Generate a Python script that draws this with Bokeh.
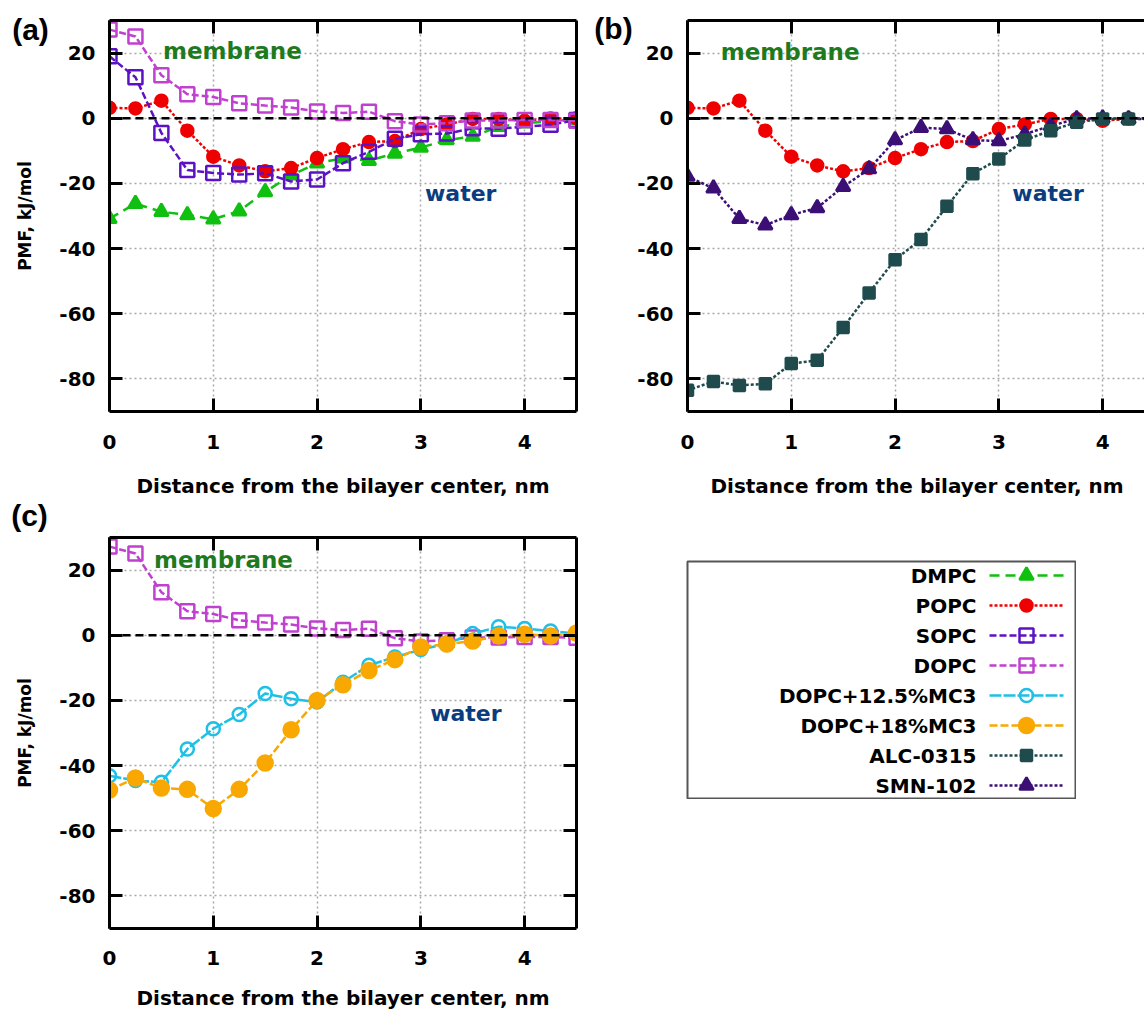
import math
from bokeh.plotting import figure
from bokeh.layouts import row, column
from bokeh.models import Span, Label, FixedTicker, LinearAxis, Range1d
from bokeh.embed import file_html
from bokeh.resources import INLINE
from bokeh.core.properties import value

# ---------------- data ----------------
distance = [0.0, 0.25, 0.5, 0.75, 1.0, 1.25, 1.5, 1.75, 2.0, 2.25,
            2.5, 2.75, 3.0, 3.25, 3.5, 3.75, 4.0, 4.25, 4.5]

dmpc = [-30.8, -26.2, -28.7, -29.7, -31.0, -28.5, -22.6, -17.5, -13.8, -12.3,
        -13.0, -10.8, -9.0, -6.7, -5.6, -2.6, -1.5, -1.0, -0.5]
popc = [3.2, 3.0, 5.4, -3.8, -11.8, -14.5, -16.3, -15.3, -12.2, -9.5,
        -7.3, -7.0, -3.3, -1.9, -0.2, -0.2, -0.8, -0.1, 0.0]
sopc = [19.0, 12.6, -4.5, -15.9, -16.8, -17.3, -16.9, -19.4, -18.8, -13.8,
        -10.3, -6.3, -4.9, -4.7, -3.1, -3.2, -2.6, -2.0, -0.5]
dopc = [27.2, 25.1, 13.2, 7.4, 6.5, 4.6, 3.9, 3.3, 2.1, 1.6,
        2.0, -0.9, -1.9, -1.5, -0.7, -0.7, -0.5, -0.5, -0.8]
dopc_mc3_125 = [-43.1, -44.6, -45.1, -34.9, -28.7, -24.3, -17.9, -19.5, -20.5, -14.4,
                -9.2, -6.7, -4.4, -2.6, 0.5, 2.6, 2.1, 1.3, 0.5]
dopc_mc3_18 = [-47.5, -43.8, -46.9, -47.3, -53.2, -47.3, -39.2, -29.0, -20.0, -15.2,
               -10.8, -7.5, -3.6, -2.7, -1.8, -0.2, 0.3, -0.2, 0.7]
alc0315 = [-83.5, -80.8, -82.0, -81.5, -75.3, -74.3, -64.2, -53.6, -43.4, -37.2,
           -27.0, -17.0, -12.5, -6.7, -3.8, -1.2, -0.2, -0.2, 0.0]
smn102 = [-17.9, -21.5, -30.8, -32.8, -29.7, -27.5, -21.0, -15.6, -6.7, -2.9,
          -3.3, -6.7, -7.0, -4.9, -2.3, -0.2, 0.0, -0.2, -0.2]

series_names = ["DMPC", "POPC", "SOPC", "DOPC", "DOPC+12.5%MC3",
                "DOPC+18%MC3", "ALC-0315", "SMN-102"]
series_values = {
    "DMPC": dmpc, "POPC": popc, "SOPC": sopc, "DOPC": dopc,
    "DOPC+12.5%MC3": dopc_mc3_125, "DOPC+18%MC3": dopc_mc3_18,
    "ALC-0315": alc0315, "SMN-102": smn102,
}
panel_a_series = ["DMPC", "POPC", "SOPC", "DOPC"]
panel_b_series = ["POPC", "SMN-102", "ALC-0315"]
panel_c_series = ["DOPC", "DOPC+12.5%MC3", "DOPC+18%MC3"]

x_ticks = [0, 1, 2, 3, 4]
x_tick_labels = ["0", "1", "2", "3", "4"]
y_ticks = [-80, -60, -40, -20, 0, 20]
y_tick_labels = ["-80", "-60", "-40", "-20", "0", "20"]

x_title = "Distance from the bilayer center, nm"
y_title = "PMF, kJ/mol"
panel_tags = ["(a)", "(b)", "(c)"]

# ---------------- styles ----------------
STYLE = {
    "DMPC": dict(color="#10c010", dash="10 6", marker="triangle", size=14, fill=True),
    "POPC": dict(color="#ee0000", dash="3 2", marker="circle", size=12, fill=True),
    "SOPC": dict(color="#5b12c4", dash="7 3", marker="square", size=14, fill=False),
    "DOPC": dict(color="#c040d0", dash="7 3", marker="square", size=14, fill=False),
    "DOPC+12.5%MC3": dict(color="#1ec0e6", dash="12 2", marker="circle", size=13, fill=False),
    "DOPC+18%MC3": dict(color="#f8a800", dash="8 3", marker="circle", size=15, fill=True),
    "ALC-0315": dict(color="#1f4b4d", dash="3 2", marker="square", size=11, fill=True),
    "SMN-102": dict(color="#3b0f75", dash="3 2", marker="triangle", size=14, fill=True),
}
FONT = "DejaVu Sans"
FRAME_H = 391
FRAME_W = 467
X_END = 4.5
Y_RANGE = (-90, 30)


def style_axis(ax, show_labels, ticks, labels):
    ax.ticker = FixedTicker(ticks=ticks)
    ax.major_label_overrides = {t: l for t, l in zip(ticks, labels)}
    ax.axis_line_width = 3
    ax.axis_line_color = "black"
    ax.major_tick_line_width = 3
    ax.major_tick_line_color = "black"
    ax.major_tick_in = 13
    ax.major_tick_out = 0
    ax.minor_tick_line_color = None
    ax.major_label_text_font = FONT
    ax.major_label_text_font_style = "bold"
    if show_labels:
        ax.major_label_text_font_size = "20px"
        ax.major_label_text_color = "black"
    else:
        ax.major_label_text_font_size = "1px"
        ax.major_label_text_color = None
        ax.major_label_standoff = 0
    ax.axis_label_text_font = FONT
    ax.axis_label_text_font_style = "bold"
    ax.axis_label_text_color = "black"


def make_panel(names, frame_w, x_end, right_axis, borders, bottom_standoffs):
    left, right, top, bottom = borders
    p = figure(frame_width=frame_w, frame_height=FRAME_H,
               x_range=Range1d(0, x_end), y_range=Range1d(*Y_RANGE),
               output_backend="svg", toolbar_location=None,
               min_border_left=left, min_border_right=right,
               min_border_top=top, min_border_bottom=bottom,
               background_fill_color="white", border_fill_color="white")
    p.outline_line_color = None

    xb = p.xaxis[0]
    style_axis(xb, True, x_ticks, x_tick_labels)
    xb.axis_label = x_title
    xb.axis_label_text_font_size = "20px"
    xb.major_label_standoff = bottom_standoffs[0]
    xb.axis_label_standoff = bottom_standoffs[1]

    yl = p.yaxis[0]
    style_axis(yl, True, y_ticks, y_tick_labels)
    yl.major_label_standoff = 14

    xt = LinearAxis()
    style_axis(xt, False, x_ticks, x_tick_labels)
    p.add_layout(xt, "above")
    if right_axis:
        yr = LinearAxis()
        style_axis(yr, False, y_ticks, y_tick_labels)
        p.add_layout(yr, "right")

    p.xgrid.ticker = FixedTicker(ticks=x_ticks)
    p.ygrid.ticker = FixedTicker(ticks=y_ticks)
    p.grid.grid_line_color = "#a8a8a8"
    p.grid.grid_line_dash = "2 3"
    p.grid.grid_line_width = 1.5

    p.add_layout(Span(location=0, dimension="width", line_color="black",
                      line_dash="8 5", line_width=2.5))

    for name in names:
        st = STYLE[name]
        vals = series_values[name]
        p.line(distance, vals, line_color=st["color"], line_width=2.5,
               line_dash=st["dash"])
        p.scatter(distance, vals, marker=st["marker"], size=st["size"],
                  line_color=st["color"], line_width=2.5,
                  fill_color=st["color"] if st["fill"] else None)
    return p


def add_text(p, x, y, text, color, size):
    p.add_layout(Label(x=x, y=y, text=text, text_color=color,
                       text_font=FONT, text_font_style="bold",
                       text_font_size=size, text_align="left",
                       text_baseline="middle"))


def strip(width, height):
    s = figure(width=width, height=height, x_range=Range1d(0, width),
               y_range=Range1d(0, height), output_backend="svg",
               toolbar_location=None, x_axis_location=None,
               y_axis_location=None, min_border_left=0, min_border_right=0,
               min_border_top=0, min_border_bottom=0)
    s.outline_line_color = None
    s.xgrid.visible = False
    s.ygrid.visible = False
    return s


def tag(s, x, y_from_top, text):
    s.text(x=[x], y=[s.height - y_from_top], text=[text], text_align="center",
           text_baseline="middle", text_font=value("Liberation Sans"),
           text_font_style="bold", text_font_size="30px", text_color="black")


def ytitle(s, x, y_from_top):
    s.text(x=[x], y=[s.height - y_from_top], text=[y_title], angle=math.pi / 2,
           text_align="center", text_baseline="middle", text_font=value(FONT),
           text_font_style="bold", text_font_size="17px", text_color="black")


# panel (a)
pa = make_panel(panel_a_series, FRAME_W, X_END, True,
                (52, 10, 20, 100), (23, 22))
add_text(pa, 0.515, 20.5, "membrane", "#1f7a1f", "23px")
add_text(pa, 3.04, -23.0, "water", "#0b3d7e", "22px")

# panel (b) - cut at the right page edge
fb_w = 459
pb = make_panel(panel_b_series, fb_w, X_END * fb_w / FRAME_W, False,
                (52, 0, 20, 100), (23, 22))
add_text(pb, 0.32, 20.3, "membrane", "#1f7a1f", "23px")
add_text(pb, 3.13, -23.0, "water", "#0b3d7e", "22px")

# panel (c)
pc = make_panel(panel_c_series, FRAME_W, X_END, True,
                (52, 10, 26, 0), (22, 18))
add_text(pc, 0.43, 23.0, "membrane", "#1f7a1f", "23px")
add_text(pc, 3.09, -24.0, "water", "#0b3d7e", "22px")

# left strip with tags and y titles
sl = strip(56, 1010)
tag(sl, 30, 29, panel_tags[0])
tag(sl, 29, 515, panel_tags[2])
ytitle(sl, 24, 215.5)
ytitle(sl, 24, 732.5)

# middle strip with tag (b)
sm = strip(48, 511)
tag(sm, 27, 28, panel_tags[1])

# legend box
LW, LH = 389, 238
pl = figure(frame_width=LW, frame_height=LH, x_range=Range1d(0, LW),
            y_range=Range1d(0, LH), output_backend="svg", toolbar_location=None,
            x_axis_location=None, y_axis_location=None,
            min_border_left=53, min_border_right=0, min_border_top=50,
            min_border_bottom=0)
pl.xgrid.visible = False
pl.ygrid.visible = False
pl.outline_line_color = "#555555"
pl.outline_line_width = 2
row_y = [LH - 14 - 30 * i for i in range(len(series_names))]
pl.text(x=[289] * len(series_names), y=row_y, text=series_names,
        text_align="right", text_baseline="middle", text_font=value(FONT),
        text_font_style="bold", text_font_size="20px", text_color="black")
for name, yy in zip(series_names, row_y):
    st = STYLE[name]
    pl.line([302, 376], [yy, yy], line_color=st["color"], line_width=2.5,
            line_dash=st["dash"])
    pl.scatter([339], [yy], marker=st["marker"], size=st["size"],
               line_color=st["color"], line_width=2.5,
               fill_color=st["color"] if st["fill"] else None)

layout = row(sl, column(pa, pc), sm, column(pb, pl))
open("out.html", "w").write(file_html(layout, INLINE))
